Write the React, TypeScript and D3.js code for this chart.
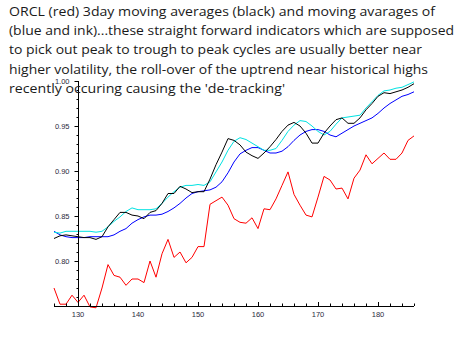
import React, { useEffect, useRef } from "react";
import * as d3 from "d3";

// trading day index (x)
const days = [
	126, 127, 128, 129, 130, 131, 132, 133, 134, 135, 136, 137, 138, 139, 140, 141, 142, 143, 144, 145, 146,
	147, 148, 149, 150, 151, 152, 153, 154, 155, 156, 157, 158, 159, 160, 161, 162, 163, 164, 165, 166, 167,
	168, 169, 170, 171, 172, 173, 174, 175, 176, 177, 178, 179, 180, 181, 182, 183, 184, 185, 186,
];

// ORCL (red)
const orcl = [
	0.77, 0.752, 0.752, 0.762, 0.754, 0.762, 0.749, 0.748, 0.77, 0.796, 0.784, 0.782, 0.773, 0.78, 0.78,
	0.776, 0.8, 0.782, 0.808, 0.824, 0.804, 0.81, 0.798, 0.804, 0.816, 0.816, 0.863, 0.867, 0.871, 0.862,
	0.847, 0.843, 0.842, 0.848, 0.836, 0.858, 0.857, 0.869, 0.884, 0.899, 0.874, 0.862, 0.851, 0.849, 0.871,
	0.894, 0.89, 0.88, 0.881, 0.869, 0.892, 0.901, 0.918, 0.908, 0.914, 0.92, 0.913, 0.913, 0.92, 0.934,
	0.939,
];

// 3day moving average (black)
const ma3 = [
	0.825, 0.828, 0.829, 0.828, 0.827, 0.826, 0.826, 0.824, 0.827, 0.838, 0.846, 0.854, 0.854, 0.851, 0.85,
	0.847, 0.854, 0.856, 0.864, 0.875, 0.875, 0.883, 0.88, 0.876, 0.877, 0.877, 0.891, 0.907, 0.921, 0.936,
	0.934, 0.929, 0.921, 0.917, 0.914, 0.92, 0.927, 0.935, 0.944, 0.951, 0.954, 0.95, 0.942, 0.931, 0.931,
	0.942, 0.95, 0.957, 0.959, 0.953, 0.953, 0.959, 0.968, 0.975, 0.983, 0.987, 0.986, 0.988, 0.99, 0.993,
	0.997,
];

// moving average (cyan / "ink")
const maCyan = [
	0.832, 0.831, 0.833, 0.833, 0.833, 0.833, 0.833, 0.832, 0.833, 0.838, 0.844, 0.849, 0.855, 0.859, 0.857,
	0.857, 0.857, 0.858, 0.864, 0.871, 0.877, 0.882, 0.884, 0.884, 0.885, 0.884, 0.888, 0.899, 0.91, 0.923,
	0.933, 0.937, 0.935, 0.931, 0.927, 0.923, 0.923, 0.925, 0.934, 0.944, 0.951, 0.956, 0.955, 0.95, 0.944,
	0.94, 0.944, 0.952, 0.959, 0.96, 0.961, 0.962, 0.97, 0.977, 0.984, 0.989, 0.99, 0.992, 0.993, 0.996,
	0.999,
];

// moving average (blue)
const maBlue = [
	0.833, 0.829, 0.827, 0.826, 0.826, 0.826, 0.827, 0.827, 0.827, 0.827, 0.829, 0.833, 0.836, 0.842, 0.846,
	0.849, 0.851, 0.851, 0.852, 0.855, 0.859, 0.864, 0.87, 0.875, 0.877, 0.878, 0.879, 0.882, 0.888, 0.898,
	0.91, 0.919, 0.923, 0.926, 0.926, 0.923, 0.92, 0.92, 0.922, 0.927, 0.934, 0.94, 0.944, 0.946, 0.946,
	0.944, 0.94, 0.938, 0.942, 0.946, 0.95, 0.953, 0.956, 0.959, 0.964, 0.97, 0.975, 0.979, 0.983, 0.985,
	0.988,
];

const xMajor = [130, 140, 150, 160, 170, 180];
const yMajor = [0.8, 0.85, 0.9, 0.95, 1.0];

const titleLines = [
	"ORCL (red) 3day moving averages (black) and moving avarages of",
	"(blue and ink)...these straight forward indicators which are supposed",
	"to pick out peak to trough to peak cycles are usually better near",
	"higher volatility, the roll-over of the uptrend near historical highs",
	"recently occuring causing the 'de-tracking'",
];
const titleWidths = [426, 445, 413, 419, 276];

const App: React.FC = () => {
	const ref = useRef<SVGSVGElement | null>(null);

	useEffect(() => {
		const svg = d3.select(ref.current);
		svg.selectAll("*").remove();

		const x = d3.scaleLinear().domain([126, 186]).range([54, 414]);
		const y = d3.scaleLinear().domain([0.75, 1.0]).range([306, 81]);

		const g = svg.append("g");

		// series
		const line = d3
			.line<number>()
			.x((_, i) => x(days[i]))
			.y((d) => y(d));

		const series: [number[], string][] = [
			[maBlue, "#0000ff"],
			[maCyan, "#00e2e2"],
			[ma3, "#000000"],
			[orcl, "#ff0000"],
		];
		series.forEach(([vals, color]) => {
			g.append("path")
				.attr("d", line(vals))
				.attr("fill", "none")
				.attr("stroke", color)
				.attr("stroke-width", 1);
		});

		// x axis (at 0.75)
		const axisY = y(0.75);
		g.append("line")
			.attr("x1", x(126))
			.attr("x2", x(186))
			.attr("y1", axisY + 0.5)
			.attr("y2", axisY + 0.5)
			.attr("stroke", "#000");
		d3.range(126, 187, 2).forEach((t) => {
			const major = t % 10 === 0;
			g.append("line")
				.attr("x1", Math.round(x(t)) + 0.5)
				.attr("x2", Math.round(x(t)) + 0.5)
				.attr("y1", axisY)
				.attr("y2", axisY - (major ? 4 : 2.5))
				.attr("stroke", "#000");
		});
		xMajor.forEach((t) => {
			g.append("text")
				.attr("x", x(t))
				.attr("y", axisY + 11)
				.attr("text-anchor", "middle")
				.attr("font-family", "Liberation Sans, sans-serif")
				.attr("font-size", 7.5)
				.attr("fill", "#2a2a40")
				.text(String(t));
		});

		// y axis (at x = 130)
		const axisX = Math.round(x(130)) + 0.5;
		g.append("line")
			.attr("x1", axisX)
			.attr("x2", axisX)
			.attr("y1", y(1.0))
			.attr("y2", y(0.75))
			.attr("stroke", "#000");
		d3.range(0, 26).forEach((k) => {
			const v = 0.75 + k * 0.01;
			const major = k % 5 === 0;
			g.append("line")
				.attr("x1", axisX)
				.attr("x2", axisX - (major ? 4 : 2))
				.attr("y1", Math.round(y(v)) + 0.5)
				.attr("y2", Math.round(y(v)) + 0.5)
				.attr("stroke", "#000");
		});
		yMajor.forEach((v) => {
			g.append("text")
				.attr("x", axisX - 9)
				.attr("y", y(v) + 2.5)
				.attr("text-anchor", "end")
				.attr("font-family", "Liberation Sans, sans-serif")
				.attr("font-size", 7.5)
				.attr("fill", "#2a2a40")
				.text(d3.format(".2f")(v));
		});

		// title text
		titleLines.forEach((t, i) => {
			svg.append("text")
				.attr("x", 9)
				.attr("y", 16 + i * 19.2)
				.attr("font-family", "Open Sans, sans-serif")
				.attr("font-size", 13.5)
				.attr("fill", "#1a1a1a")
				.attr("textLength", titleWidths[i])
				.attr("lengthAdjust", "spacingAndGlyphs")
				.text(t);
		});
	}, []);

	return (
		<svg
			ref={ref}
			width={466}
			height={352}
			style={{ position: "absolute", left: 0, top: 0, background: "#fff" }}
		/>
	);
};

export default App;
